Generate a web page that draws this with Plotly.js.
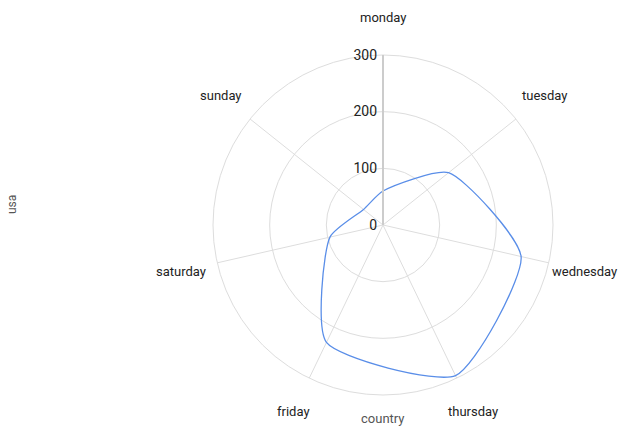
<!DOCTYPE html>
<html>
<head>
<meta charset="utf-8">
<script src="https://cdn.plot.ly/plotly-3.0.1.min.js"></script>
<style>html,body{margin:0;padding:0;background:#fff;}#chart{width:628px;height:433px;}</style>
</head>
<body>
<div id="chart"></div>
<script>
const days = ["monday", "tuesday", "wednesday", "thursday", "friday", "saturday", "sunday"];
const usaValues = [60, 148, 250, 295, 230, 96, 44];
const radialTicks = [0, 100, 200, 300];
const xTitle = "country";
const yTitle = "usa";

const W = 628, H = 433;
const cx = 383, cy = 225, R = 170, labelR = 207;

const trace = {
  type: "scatterpolar",
  mode: "lines",
  r: usaValues.concat([usaValues[0]]),
  theta: days.concat([days[0]]),
  line: {color: "#5a8ee8", width: 1.3, shape: "spline", smoothing: 0.6},
  hoverinfo: "none",
  showlegend: false
};

const dayLabels = days.map((d, i) => {
  const a = (90 - i * 360 / days.length) * Math.PI / 180;
  return {
    text: d, xref: "paper", yref: "paper",
    x: (cx + labelR * Math.cos(a)) / W,
    y: 1 - (cy - labelR * Math.sin(a)) / H,
    xanchor: "center", yanchor: "middle", showarrow: false,
    font: {family: "Roboto, sans-serif", size: 13, color: "#222"}
  };
});

const layout = {
  width: W, height: H,
  margin: {l: 0, r: 0, t: 0, b: 0},
  paper_bgcolor: "#fff",
  font: {family: "Roboto, sans-serif", size: 13, color: "#222"},
  showlegend: false,
  polar: {
    domain: {x: [(cx - R) / W, (cx + R) / W], y: [1 - (cy + R) / H, 1 - (cy - R) / H]},
    bgcolor: "#fff",
    radialaxis: {
      range: [0, 300],
      tickvals: radialTicks,
      ticktext: radialTicks.map(String),
      angle: 90,
      tickangle: 90,
      side: "counterclockwise",
      showline: true,
      linecolor: "#ccc",
      linewidth: 2,
      gridcolor: "#ddd",
      gridwidth: 1,
      ticks: "",
      tickfont: {family: "Roboto, sans-serif", size: 14, color: "#222"}
    },
    angularaxis: {
      type: "category",
      categoryarray: days,
      rotation: 90,
      direction: "clockwise",
      showline: true,
      linecolor: "#ddd",
      gridcolor: "#ddd",
      ticks: "",
      showticklabels: false
    }
  },
  annotations: dayLabels.concat([
    {text: yTitle, xref: "paper", yref: "paper", x: 12 / W, y: 1 - 205 / H, textangle: -90,
     xanchor: "center", yanchor: "middle",
     showarrow: false, font: {family: "Roboto, sans-serif", size: 12, color: "#555"}},
    {text: xTitle, xref: "paper", yref: "paper", x: cx / W, y: 1 - 418 / H,
     xanchor: "center", yanchor: "middle",
     showarrow: false, font: {family: "Roboto, sans-serif", size: 13, color: "#555"}}
  ])
};

Plotly.newPlot("chart", [trace], layout, {displayModeBar: false, staticPlot: true});
</script>
</body>
</html>
